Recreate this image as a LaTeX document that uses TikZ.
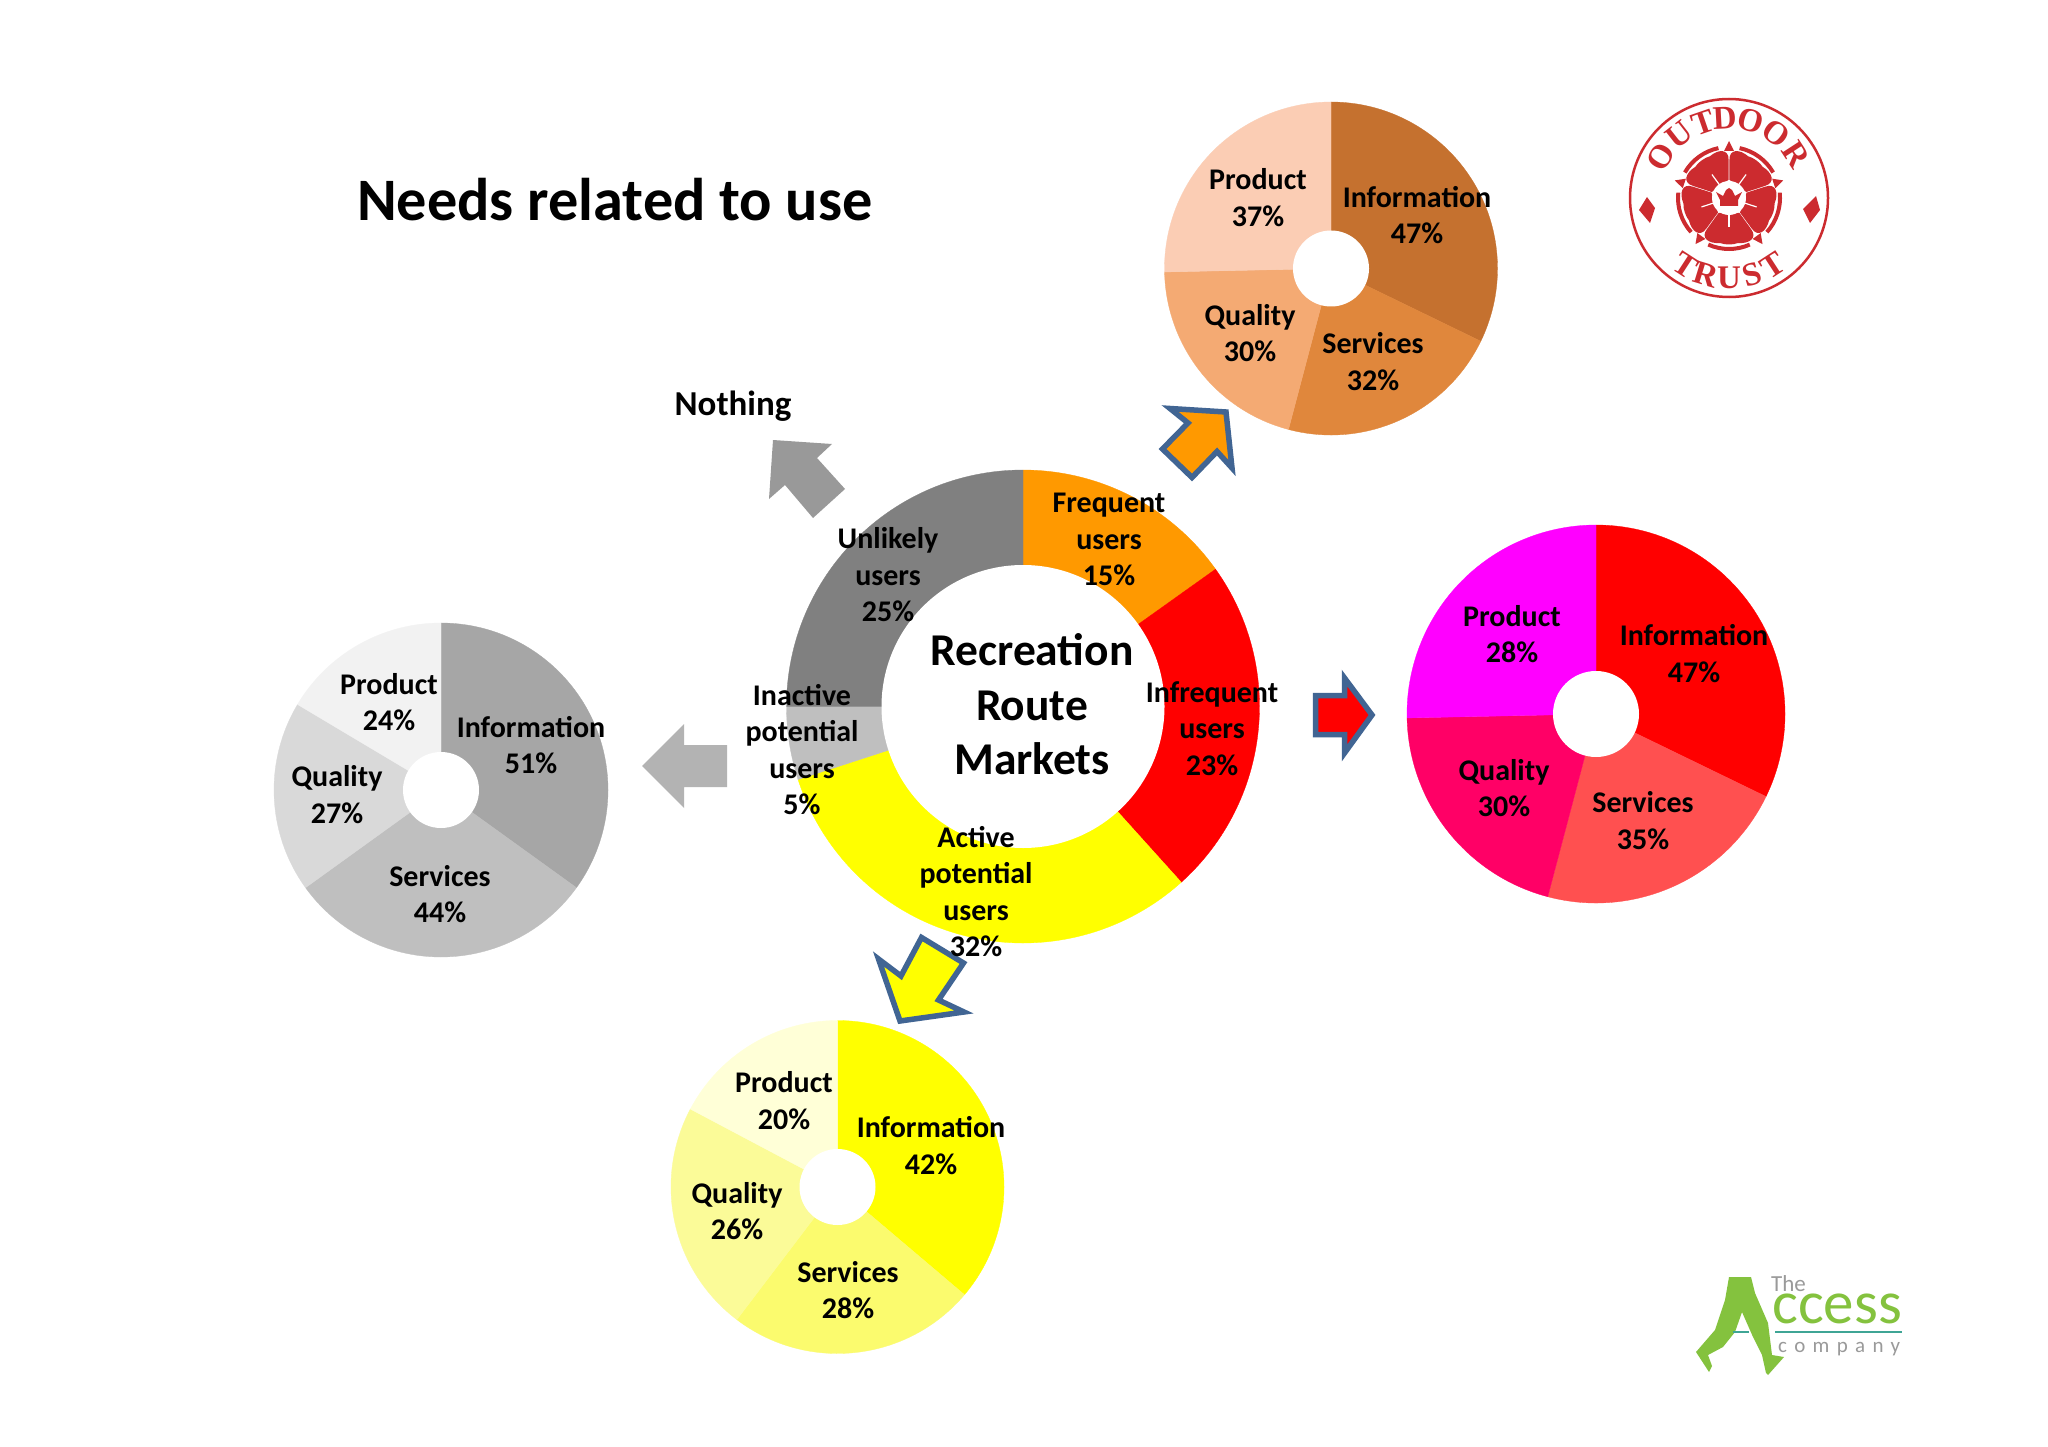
\documentclass[tikz,border=0pt]{standalone}
\usepackage{fontspec}
\setmainfont{Carlito}
\newfontfamily\logoserif{Liberation Serif}
\newfontfamily\logosans{Carlito}
\newfontfamily\logospaced[LetterSpace=35]{Carlito}
\definecolor{edgeblue}{HTML}{416593}
\definecolor{trustred}{HTML}{CC2B2F}
\definecolor{accessgreen}{HTML}{84C23E}
\definecolor{accessteal}{HTML}{3FA595}
\definecolor{logogrey}{HTML}{9A9A9A}
\definecolor{orange1}{HTML}{FF9900}
\definecolor{red1}{HTML}{FF0000}
\definecolor{yellow1}{HTML}{FFFF00}
\definecolor{grey5}{HTML}{BFBFBF}
\definecolor{grey8}{HTML}{808080}
\definecolor{grey8b}{HTML}{999999}
\definecolor{grey5b}{HTML}{B3B3B3}
\definecolor{oinfo}{HTML}{C5712F}
\definecolor{oserv}{HTML}{E0873C}
\definecolor{oqual}{HTML}{F4AA73}
\definecolor{oprod}{HTML}{FBCDB4}
\definecolor{rserv}{HTML}{FF5050}
\definecolor{rqual}{HTML}{FF0066}
\definecolor{rprod}{HTML}{FF00FF}
\definecolor{ginfo}{HTML}{A6A6A6}
\definecolor{gserv}{HTML}{BFBFBF}
\definecolor{gqual}{HTML}{D9D9D9}
\definecolor{gprod}{HTML}{F2F2F2}
\definecolor{yserv}{HTML}{FBFB6E}
\definecolor{yqual}{HTML}{FBFB98}
\definecolor{yprod}{HTML}{FFFFD7}
\tikzset{
  lab/.style={font=\bfseries\fontsize{30}{36.6}\selectfont,align=center,inner sep=0pt,
    execute at begin node=\strut,execute at end node=\strut},
  bigtext/.style={font=\bfseries\fontsize{45.5}{54.5}\selectfont,align=center,inner sep=0pt,
    execute at begin node=\strut,execute at end node=\strut},
  bluearrow/.style={line width=5.5pt,draw=edgeblue,line join=miter,miter limit=8},
  trustletter/.style={font=\logoserif\bfseries\fontsize{33}{33}\selectfont,text=trustred,inner sep=0pt},
}
\newcommand\ringpart[5]{% colour, from, to (degrees clockwise from 12), rx, ry
  \fill[#1,draw=#1,line width=0.3pt] (0,0) -- ({(#4)*cos(90-(#2))},{(#5)*sin(90-(#2))})
    arc[start angle={90-(#2)},end angle={90-(#3)},x radius=#4,y radius=#5] -- cycle;}
\newcommand\piechart[4]{% cx, cy, radius, list of from/to/colour
  \begin{scope}[shift={(#1,#2)},x=1pt,y=1pt]
    \foreach \aa/\bb/\cc in {#4} {\ringpart{\cc}{\aa}{\bb}{#3}{#3}}
  \end{scope}}
\begin{document}
\begin{tikzpicture}[x=1pt,y=-1pt]
\useasboundingbox (0,0) rectangle (2048,1447);
\fill[white] (0,0) rectangle (2048,1447);

% central ring
\begin{scope}[shift={(1023,706.5)},x=1pt,y=1pt]
  \foreach \aa/\bb/\cc in {0/54.5/orange1,54.5/138/red1,138/252/yellow1,252/270/grey5,270/360/grey8} {
    \ringpart{\cc}{\aa}{\bb}{236.5}{236.5}}
  \fill[white] (0,0) circle[radius=141.5];
\end{scope}

% four pies
\piechart{1331}{268.5}{166.5}{0/115.9/oinfo,115.9/194.8/oserv,194.8/268.8/oqual,268.8/360/oprod}
\fill[white] (1331,268.5) circle[radius=38pt];
\piechart{1596}{714}{189}{0/115.9/red1,115.9/194.8/rserv,194.8/268.8/rqual,268.8/360/rprod}
\fill[white] (1596,714) circle[radius=43pt];
\piechart{441}{790}{167}{0/125.8/ginfo,125.8/234.2/gserv,234.2/300.8/gqual,300.8/360/gprod}
\fill[white] (441,790) circle[radius=38pt];
\piechart{837.5}{1187}{166.5}{0/130.3/yellow1,130.3/217.2/yserv,217.2/297.9/yqual,297.9/360/yprod}
\fill[white] (837.5,1187) circle[radius=38pt];

% arrows
\fill[grey8b] (773,440) -- (832,444) -- (817,458) -- (845,489) -- (813,518) -- (785,485) -- (769,499) -- cycle;
\fill[grey5b] (642,766) -- (684,724) -- (684,745) -- (727,745) -- (727,787) -- (684,787) -- (684,808) -- cycle;
\filldraw[bluearrow,fill=orange1] (1170,408.5) -- (1226,412) -- (1232,468) -- (1217,451.5) -- (1192,477.5) -- (1162.5,449) -- (1188,423) -- cycle;
\filldraw[bluearrow,fill=red1] (1315.5,695.5) -- (1344.5,695.5) -- (1344.5,678) -- (1372,715) -- (1344.5,753) -- (1344.5,734.5) -- (1315.5,734.5) -- cycle;
\filldraw[bluearrow,fill=yellow1] (921.5,937.5) -- (963.5,963) -- (938.5,1000) -- (964,1012) -- (900,1021) -- (878.5,959) -- (901,976) -- cycle;

% titles
\node[anchor=west,inner sep=0pt,font=\bfseries\fontsize{60.3}{64}\selectfont] (title) at (357,200) {Needs related to use};
\node[inner sep=0pt,font=\bfseries\fontsize{35}{38}\selectfont] (nothing) at (733,406) {Nothing};
\node[bigtext] (centre) at (1032,712.5) {Recreation\\Route\\Markets};

% ring labels
\node[lab] (frequent) at (1109,545) {Frequent\\users\\15\%};
\node[lab] (unlikely) at (888,580) {Unlikely\\users\\25\%};
\node[lab] (inactive) at (802,755) {Inactive\\potential\\users\\5\%};
\node[lab] (infrequent) at (1212,734) {Infrequent\\users\\23\%};
\node[lab] (activeusers) at (976,897) {Active\\potential\\users\\32\%};

% orange pie labels
\node[lab] (oproduct) at (1258,203) {Product\\37\%};
\node[lab] (oinformation) at (1417,220.5) {Information\\47\%};
\node[lab] (oquality) at (1250,338.5) {Quality\\30\%};
\node[lab] (oservices) at (1373,367) {Services\\32\%};
% red pie labels
\node[lab] (rproduct) at (1512,639.5) {Product\\28\%};
\node[lab] (rinformation) at (1694,659) {Information\\47\%};
\node[lab] (rquality) at (1504,793.5) {Quality\\30\%};
\node[lab] (rservices) at (1643,826) {Services\\35\%};
% grey pie labels
\node[lab] (gproduct) at (389,707.5) {Product\\24\%};
\node[lab] (ginformation) at (531,750.5) {Information\\51\%};
\node[lab] (gquality) at (337,800) {Quality\\27\%};
\node[lab] (gservices) at (440,899.5) {Services\\44\%};
% yellow pie labels
\node[lab] (yproduct) at (784,1106) {Product\\20\%};
\node[lab] (yinformation) at (931,1151) {Information\\42\%};
\node[lab] (yquality) at (737,1216.5) {Quality\\26\%};
\node[lab] (yservices) at (848,1295.5) {Services\\28\%};

% Outdoor Trust logo
\draw[trustred,line width=2.5pt] (1729,198) circle[radius=99pt];
\begin{scope}[shift={(1729,198)},x=1pt,y=1pt]
  \foreach \aa/\ll/\nn in {-59/O/ta,-38/U/tb,-19/T/tc,-3/D/td,16/O/te,36/O/tf,57/R/tg} {
    \node[trustletter,rotate=-\aa] (\nn) at ({90-\aa}:80) {\ll};}
  \foreach \aa/\ll/\nn in {-33/T/ba,-17/R/bb,0/U/bc,17/S/bd,33/T/be} {
    \node[trustletter,rotate=\aa] (\nn) at ({-90+\aa}:80) {\ll};}
  \foreach \aa in {54,-18,-90,198,126} {
    \begin{scope}[rotate=\aa]
      \draw[trustred,line width=4pt] (-24:51) arc[start angle=-24,end angle=24,radius=51];
      \fill[trustred] (15,-10.5) -- (31,-22) .. controls (40,-29) and (46,-20) .. (45,-9)
        .. controls (47,-4) and (47,4) .. (45,9) .. controls (46,20) and (40,29) .. (31,22)
        -- (15,10.5) -- cycle;
      \draw[white,line width=1.2pt] (16,0) -- (29,0);
    \end{scope}
    \begin{scope}[rotate=\aa+36]
      \fill[trustred] (47,-5) -- (57,0) -- (47,5) -- cycle;
    \end{scope}
  }
  \fill[white] (0,0) circle[radius=17];
  \fill[trustred] (-9,-8) -- (-9,-2) -- (-13,6) -- (-6,2) -- (-3,8) -- (0,10) -- (3,8) -- (6,2) -- (13,6) -- (9,-2) -- (9,-8) -- cycle;
\end{scope}
\fill[trustred] (1816,196) -- (1820,210) -- (1810,223) -- (1803,209) -- cycle;
\fill[trustred] (1647,197) -- (1655,208) -- (1650,223) -- (1639,210) -- cycle;

% Access company logo
\fill[accessgreen] (1729,1277) -- (1751,1277) -- (1755,1293) -- (1768,1323) -- (1772,1355)
  -- (1784,1357) -- (1768,1375) -- (1766,1373) -- (1762,1355) -- (1753,1337) -- (1742,1312)
  -- (1735,1332) -- (1723,1347) -- (1708,1355) -- (1712,1366) -- (1709,1372) -- (1696,1352)
  -- (1715,1330) -- (1725,1300) -- cycle;
\draw[accessteal,line width=1.8pt] (1733,1332) -- (1749,1332);
\draw[accessteal,line width=1.8pt] (1775,1332) -- (1902,1332);
\node[anchor=base west,inner sep=0pt,text=logogrey,font=\logosans\fontsize{23}{24}\selectfont] (the) at (1771,1291) {The};
\node[anchor=base west,inner sep=0pt,text=accessgreen,font=\logosans\fontsize{61}{61}\selectfont] (ccess) at (1772,1323) {ccess};
\node[anchor=base west,inner sep=0pt,text=logogrey,font=\logospaced\fontsize{21}{22}\selectfont] (companyname) at (1778,1352) {company};
\end{tikzpicture}
\end{document}
